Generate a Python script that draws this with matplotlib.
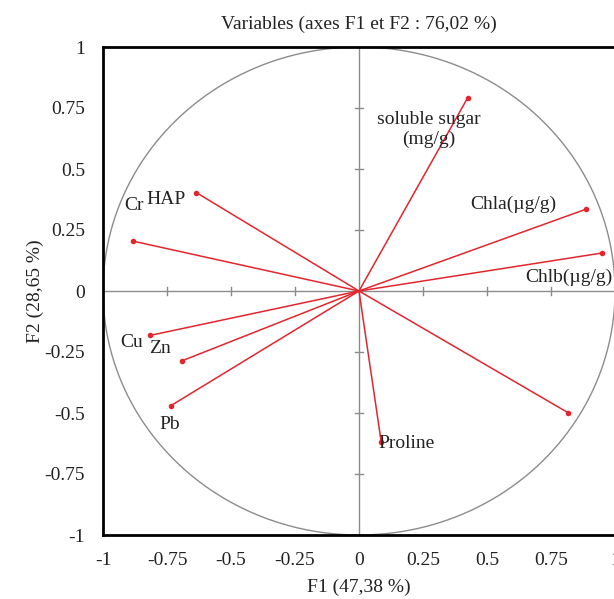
import numpy as np
import matplotlib.pyplot as plt

plt.rcParams["font.family"] = ["Liberation Serif", "DejaVu Serif"]

# variable coordinates on F1 / F2
variables = ["soluble sugar\n(mg/g)", "Chla(\u00b5g/g)", "Chlb(\u00b5g/g)", "", "Proline",
             "Pb", "Zn", "Cu", "Cr", "HAP"]
f1 = [0.424, 0.886, 0.951, 0.817, 0.087, -0.735, -0.691, -0.816, -0.881, -0.635]
f2 = [0.791, 0.335, 0.156, -0.499, -0.620, -0.470, -0.286, -0.182, 0.204, 0.403]

# where each label sits (data coords)
label_pos = [(0.272, 0.66), (0.603, 0.357), (0.82, 0.057), (0, 0), (0.187, -0.623),
             (-0.739, -0.549), (-0.778, -0.234), (-0.887, -0.213), (-0.879, 0.352), (-0.755, 0.373)]

ticks = [-1, -0.75, -0.5, -0.25, 0, 0.25, 0.5, 0.75, 1]
tick_labels = ["-1", "-0.75", "-0.5", "-0.25", "0", "0.25", "0.5", "0.75", "1"]

RED = "#E3262E"
GREY = "#8C8C8C"
TXT = "#222222"
FS = 14

fig = plt.figure(figsize=(6.14, 5.99), dpi=100)
ax = fig.add_axes([103 / 614, 1 - 535 / 599, 512 / 614, 488 / 599])
ax.set_xlim(-1, 1)
ax.set_ylim(-1, 1)

# correlation circle
t = np.linspace(0, 2 * np.pi, 400)
ax.plot(np.cos(t), np.sin(t), color=GREY, lw=1.0, zorder=1)

# centre axes with small ticks
ax.plot([-1, 1], [0, 0], color=GREY, lw=1.0, zorder=1)
ax.plot([0, 0], [-1, 1], color=GREY, lw=1.0, zorder=1)
for v in ticks[1:-1]:
    if v == 0:
        continue
    ax.plot([v, v], [-0.017, 0.017], color=GREY, lw=1.0, zorder=1)
    ax.plot([-0.017, 0.017], [v, v], color=GREY, lw=1.0, zorder=1)

# vectors
for x, y in zip(f1, f2):
    ax.plot([0, x], [0, y], color=RED, lw=1.1, zorder=3)
ax.scatter(f1, f2, s=9, color=RED, zorder=4)

for name, (lx, ly) in zip(variables, label_pos):
    if name:
        ax.text(lx, ly, name, ha="center", va="center", fontsize=FS,
                color=TXT, linespacing=1.2, zorder=5)

ax.set_xticks(ticks)
ax.set_xticklabels(tick_labels)
ax.set_yticks(ticks)
ax.set_yticklabels(tick_labels)
ax.tick_params(length=0, labelsize=FS, labelcolor=TXT)
ax.tick_params(axis="x", pad=12)
ax.tick_params(axis="y", pad=13)
for s in ax.spines.values():
    s.set_linewidth(2.0)
    s.set_color("black")

ax.set_xlabel("F1 (47,38 %)", fontsize=FS, labelpad=7, color=TXT)
ax.set_ylabel("F2 (28,65 %)", fontsize=FS, labelpad=0, color=TXT)
ax.set_title("Variables (axes F1 et F2 : 76,02 %)", fontsize=FS, pad=13, color=TXT)

fig.savefig("out.png", dpi=100)
